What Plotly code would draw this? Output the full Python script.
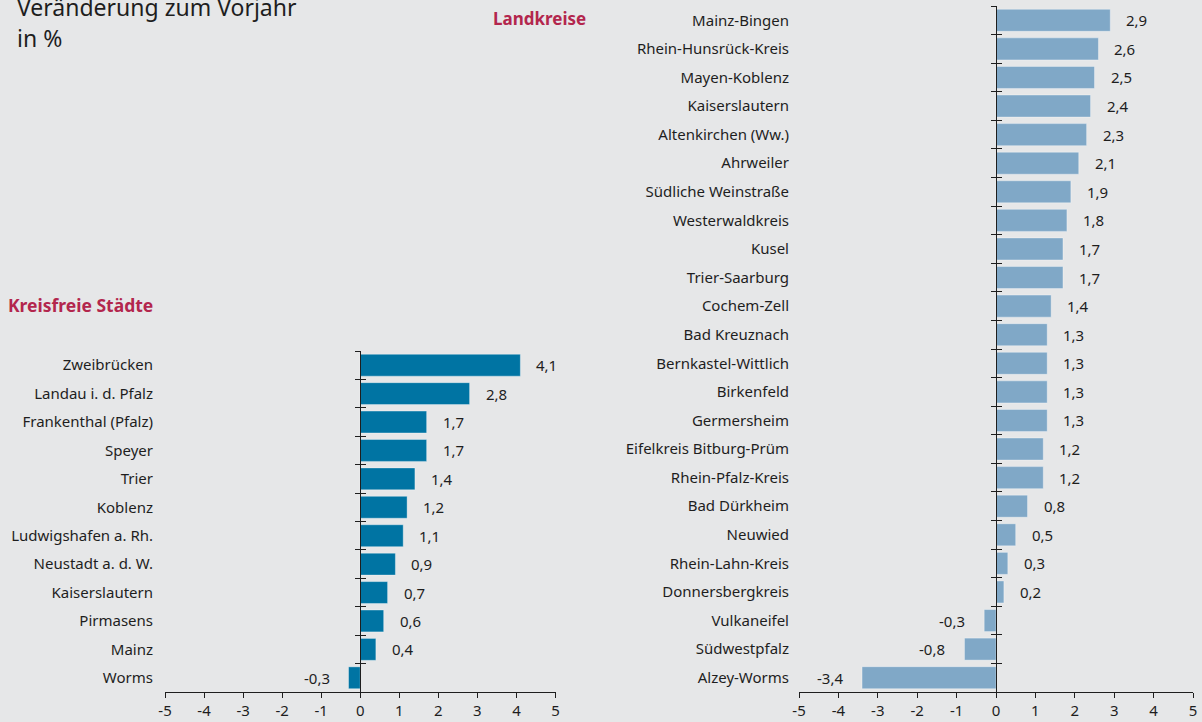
import plotly.graph_objects as go

# ---------------- data ----------------
staedte = ["Zweibrücken", "Landau i. d. Pfalz", "Frankenthal (Pfalz)", "Speyer", "Trier",
           "Koblenz", "Ludwigshafen a. Rh.", "Neustadt a. d. W.", "Kaiserslautern",
           "Pirmasens", "Mainz", "Worms"]
staedte_vals = [4.1, 2.8, 1.7, 1.7, 1.4, 1.2, 1.1, 0.9, 0.7, 0.6, 0.4, -0.3]

landkreise = ["Mainz-Bingen", "Rhein-Hunsrück-Kreis", "Mayen-Koblenz", "Kaiserslautern",
              "Altenkirchen (Ww.)", "Ahrweiler", "Südliche Weinstraße", "Westerwaldkreis",
              "Kusel", "Trier-Saarburg", "Cochem-Zell", "Bad Kreuznach",
              "Bernkastel-Wittlich", "Birkenfeld", "Germersheim", "Eifelkreis Bitburg-Prüm",
              "Rhein-Pfalz-Kreis", "Bad Dürkheim", "Neuwied", "Rhein-Lahn-Kreis",
              "Donnersbergkreis", "Vulkaneifel", "Südwestpfalz", "Alzey-Worms"]
landkreise_vals = [2.9, 2.6, 2.5, 2.4, 2.3, 2.1, 1.9, 1.8, 1.7, 1.7, 1.4, 1.3, 1.3, 1.3,
                   1.3, 1.2, 1.2, 0.8, 0.5, 0.3, 0.2, -0.3, -0.8, -3.4]

x_ticks = [-5, -4, -3, -2, -1, 0, 1, 2, 3, 4, 5]

title_lines = ["Veränderung zum Vorjahr", "in %"]
left_title = "Kreisfreie Städte"
right_title = "Landkreise"

# ---------------- style ----------------
W, H = 1202, 722
BG = "#e6e7e8"
INK = "#1e1e1e"
RED = "#b3264d"
FONT = "Noto Sans"
FS = 15
C_LEFT = "#0074a3"
C_RIGHT = "#80a8c7"

def px_x(p):
    return p / W

def px_y(p):
    return (H - p) / H

left_dom_x = [px_x(165), px_x(555.5)]
right_dom_x = [px_x(799), px_x(1193)]
left_dom_y = [px_y(692), px_y(351)]
right_dom_y = [px_y(692), px_y(6)]

def zero_pos(dom):
    return dom[0] + (0 - x_ticks[0]) / (x_ticks[-1] - x_ticks[0]) * (dom[1] - dom[0])

fig = go.Figure()

panels = [
    dict(cats=staedte, vals=staedte_vals, color=C_LEFT, xa="x", ya=["y", "y3", "y5"],
         domx=left_dom_x, domy=left_dom_y, standoff=11),
    dict(cats=landkreise, vals=landkreise_vals, color=C_RIGHT, xa="x2", ya=["y2", "y4", "y6"],
         domx=right_dom_x, domy=right_dom_y, standoff=9),
]

layout = dict(
    width=W, height=H, autosize=False,
    margin=dict(l=0, r=0, t=0, b=0, pad=0),
    paper_bgcolor=BG, plot_bgcolor=BG,
    showlegend=False,
    font=dict(family=FONT, size=FS, color=INK),
    bargap=0.23,
)

annotations = []

for p in panels:
    cats, vals = p["cats"], p["vals"]
    n = len(cats)
    yr = [n - 0.5, -0.5]
    xa_name = "xaxis" if p["xa"] == "x" else "xaxis2"
    ylab, ytick_out, ytick_in = p["ya"]

    fig.add_trace(go.Bar(
        x=vals, y=cats, orientation="h", xaxis=p["xa"], yaxis=ylab,
        marker=dict(color=p["color"], line=dict(color="rgba(255,255,255,0.35)", width=1)),
        width=0.77, hoverinfo="skip",
    ))
    # invisible helpers so the overlay tick axes have data
    for ya in (ytick_out, ytick_in):
        fig.add_trace(go.Scatter(
            x=[0] * n, y=cats, xaxis=p["xa"], yaxis=ya, mode="markers",
            marker=dict(opacity=0), hoverinfo="skip",
        ))

    layout[xa_name] = dict(
        domain=p["domx"], range=[x_ticks[0], x_ticks[-1]], anchor=ylab,
        tickvals=x_ticks, ticktext=[str(t) for t in x_ticks],
        showline=True, linecolor=INK, linewidth=1,
        ticks="outside", ticklen=5, tickcolor=INK, tickwidth=1,
        showgrid=False, zeroline=False, fixedrange=True, automargin=False,
        tickfont=dict(size=FS, color=INK),
    )
    ylab_name = "yaxis" if ylab == "y" else "yaxis" + ylab[1:]
    layout[ylab_name] = dict(
        domain=p["domy"], type="category", categoryorder="array", categoryarray=cats,
        range=yr, anchor=p["xa"], showline=False, ticks="", showgrid=False,
        zeroline=False, automargin=False, fixedrange=True,
        ticklabelstandoff=p["standoff"], tickfont=dict(size=FS, color=INK),
    )
    zp = zero_pos(p["domx"])
    for ya, side in ((ytick_out, "outside"), (ytick_in, "inside")):
        name = "yaxis" + ya[1:]
        layout[name] = dict(
            domain=p["domy"], type="category", categoryorder="array", categoryarray=cats,
            range=yr, anchor="free", position=zp, overlaying=ylab,
            showline=True, linecolor=INK, linewidth=1,
            ticks=side, tickson="boundaries", ticklen=5, tickcolor=INK, tickwidth=1,
            showticklabels=False, showgrid=False, zeroline=False, automargin=False,
            fixedrange=True,
        )

    for c, v in zip(cats, vals):
        txt = ("%.1f" % v).replace(".", ",")
        annotations.append(dict(
            x=v, y=c, xref=p["xa"], yref=ylab, text=txt, showarrow=False,
            xanchor="left" if v >= 0 else "right",
            xshift=14 if v >= 0 else -17,
            font=dict(size=FS, color=INK, family=FONT),
        ))

for line, yc in zip(title_lines, [7, 38]):
    annotations.append(dict(
        x=px_x(15), y=px_y(yc), xref="paper", yref="paper", text=line,
        showarrow=False, xanchor="left", yanchor="middle", align="left",
        font=dict(size=23, color=INK, family=FONT),
    ))
annotations.append(dict(
    x=px_x(6), y=px_y(305), xref="paper", yref="paper", text="<b>" + left_title + "</b>",
    showarrow=False, xanchor="left", yanchor="middle",
    font=dict(size=17.5, color=RED, family=FONT),
))
annotations.append(dict(
    x=px_x(491), y=px_y(19), xref="paper", yref="paper", text="<b>" + right_title + "</b>",
    showarrow=False, xanchor="left", yanchor="middle",
    font=dict(size=17, color=RED, family=FONT),
))

layout["annotations"] = annotations
fig.update_layout(**layout)
fig.write_html("out.html", config={"displayModeBar": False},
               post_script="document.body.style.margin='0';")
